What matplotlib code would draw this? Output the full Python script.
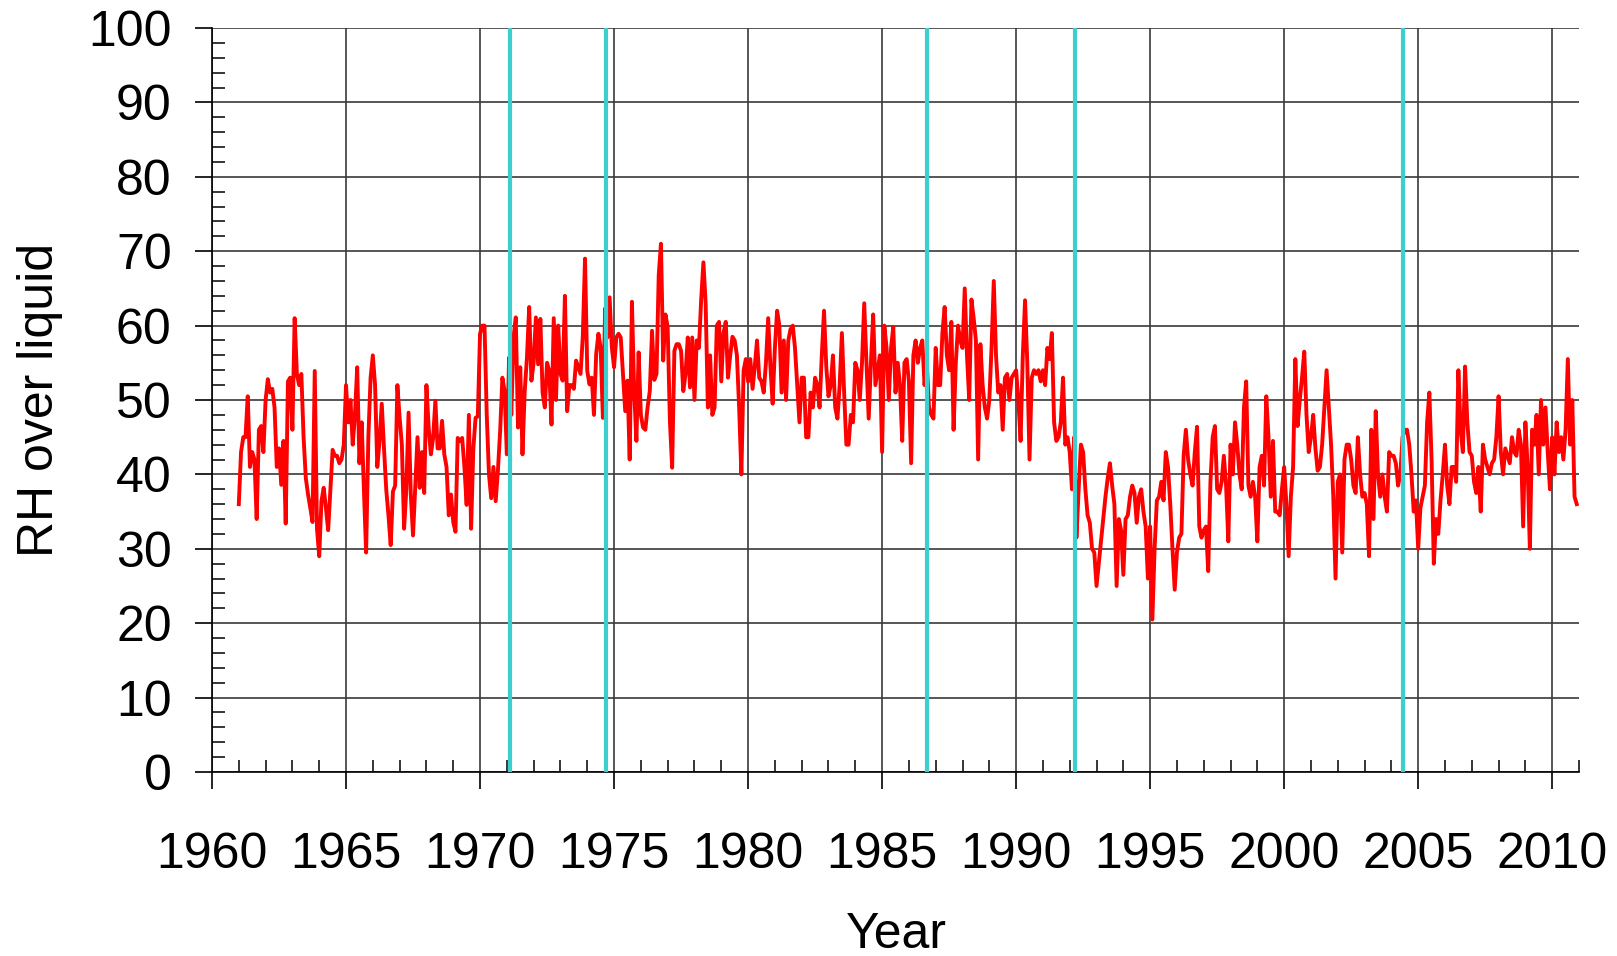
import matplotlib
matplotlib.use("Agg")
import matplotlib.pyplot as plt
import numpy as np
from matplotlib.ticker import MultipleLocator

# monthly RH over liquid, Jan 1961 .. Dec 2010
rh_1960s = [
    36, 43, 45, 45, 50.5, 41, 43, 42, 34, 46, 46.5, 43,
    50, 52.8, 51, 51.5, 49, 41, 43.5, 38.6, 44.5, 33.4, 52.5, 53,
    46, 61, 53.5, 52, 53.5, 45, 39.5, 37.3, 35.5, 33.6, 53.9, 32.7,
    29, 36.4, 38.2, 35.5, 32.5, 38, 43.3, 42.5, 42.5, 41.5, 42, 44,
    52, 47, 50, 44, 48, 54.4, 41.5, 47, 38, 29.5, 45, 53,
    56, 52, 41, 44.5, 49.5, 43.5, 38, 34.5, 30.5, 37.7, 38.5, 52,
    47.6, 44, 32.7, 38, 48.3, 37.3, 31.8, 38.5, 45, 38.2, 43, 37.5,
    52, 46.3, 42.7, 44.9, 49.9, 43.5, 43.5, 47.2, 42.7, 41, 34.5, 37.3,
    33.6, 32.3, 44.9, 44.5, 44.9, 41, 35.9, 48, 32.7, 43.5, 47.6, 47.8,
]
rh_1970s = [
    58.9, 60, 60, 48, 40, 36.8, 41, 36.4, 40.5, 45.8, 53, 51.2,
    42.7, 55.7, 48, 58.4, 61.1, 46.3, 54.4, 42.7, 51.2, 55.7, 62.5, 52.6,
    55, 61.1, 54.8, 60.9, 51, 49, 55, 53.9, 46.7, 61, 50, 60,
    53.5, 52.6, 64, 48.5, 52, 52, 51.5, 55.3, 54.4, 53.5, 58.5, 69,
    53.9, 52.1, 53, 48, 56.2, 58.9, 57, 47.6, 62.3, 58.4, 63.8, 57.1,
    54.4, 58.4, 58.9, 58.4, 53.5, 48.5, 52.6, 42, 63.2, 51.2, 44.5, 56.4,
    48, 46.3, 46, 49, 51.2, 59.3, 52.7, 53.5, 66.8, 71, 55.3, 61.5,
    59.8, 47.2, 40.9, 56.6, 57.5, 57.5, 56.6, 51.2, 53.5, 58.4, 51.7, 58.4,
    50, 58, 57, 63.5, 68.5, 63, 49, 56, 48, 49, 60, 60.5,
    52.5, 59, 60.5, 53, 56, 58.5, 58, 56, 49, 40, 54, 55.5,
]
rh_1980s = [
    52.5, 55.5, 51.5, 54.5, 58, 53, 52.5, 51, 55, 61, 54.5, 49.5,
    57, 62, 60, 51, 58, 50, 58, 59.5, 60, 57, 52, 47,
    53, 53, 45, 45, 51, 49, 53, 52, 49, 56, 62, 54.5,
    50.5, 52, 56, 49, 47.5, 52, 59, 51, 44, 44, 48, 47,
    55, 54, 50, 55, 63, 55, 47.5, 55, 61.5, 52, 54, 56,
    43, 60, 57, 50, 57, 59.8, 51, 55, 52, 44.5, 55, 55.5,
    52.5, 41.5, 56, 58, 55, 57, 58, 52, 55, 49, 48, 47.5,
    57, 52, 52, 59, 62.5, 56, 54, 60.5, 46, 55, 60, 58,
    57, 65, 56, 50, 63.5, 61, 58, 42, 57.5, 52, 49, 47.5,
    50, 57, 66, 56, 51, 52, 46, 53, 53.5, 50, 53, 53.5,
]
rh_1990s = [
    54, 50, 44.5, 56, 63.4, 55, 42, 53, 54, 53.5, 54, 52.5,
    54, 52, 57, 55.5, 59, 47, 44.5, 45, 47, 53, 44, 45,
    43, 38, 45, 31.5, 38, 44, 43, 38, 34.5, 33.5, 30, 29.5,
    25, 28, 31, 34, 37, 39.5, 41.5, 38.5, 36, 25, 34, 32.5,
    26.5, 34, 34.5, 37, 38.5, 37.5, 33.5, 37, 38, 35, 33, 26,
    33, 20.5, 30, 36.5, 37, 39, 36.5, 43, 41, 36, 30, 24.5,
    29.5, 31.5, 32, 42.5, 46, 42, 40, 38.5, 43, 46.4, 33, 31.5,
    32.5, 33, 27, 39, 45, 46.5, 38, 37.5, 39, 42.5, 38.5, 31,
    44, 40, 47, 44, 40, 38, 49, 52.5, 38.5, 37, 39, 37,
    31, 41, 42.5, 38.5, 50.5, 45, 37, 44.5, 35, 35, 34.5, 38,
]
rh_2000s = [
    41, 36, 29, 37, 41, 55.5, 46.5, 50, 53, 56.5, 48, 43,
    45, 48, 43.5, 40.5, 41, 44, 49, 54, 49, 44, 37, 26,
    39, 40, 29.5, 42, 44, 44, 42, 38.5, 37.5, 45, 40, 37,
    37.5, 36, 29, 46, 34, 48.5, 40, 37, 40, 37, 35, 43,
    42.5, 42.5, 41.5, 38.5, 40, 45, 46, 46, 44, 40, 35, 36.5,
    30, 35.5, 37, 38.5, 47, 51, 42, 28, 34, 32, 36.5, 40,
    44, 38.5, 36, 41, 41, 39, 54, 46, 43, 54.5, 47, 43,
    42.5, 39, 37.5, 41, 35, 44, 42, 41, 40, 41.5, 42, 45,
    50.5, 43, 40, 43.5, 42.5, 41.5, 45, 43, 42.5, 46, 44, 33,
    47, 41, 30, 46, 44, 48, 40, 50, 44, 49, 43, 38,
    45, 40, 47, 43, 45, 42, 46, 55.5, 44, 50, 37, 36,
]
breaks = [1971.12, 1974.70, 1986.69, 1992.18, 2004.43]

rh = np.array(rh_1960s + rh_1970s + rh_1980s + rh_1990s + rh_2000s)
years = 1961 + np.arange(len(rh)) / 12.0

plt.rcParams['font.family'] = ['Liberation Sans', 'DejaVu Sans']

fig = plt.figure(figsize=(16.17, 9.56), dpi=100)
ax = fig.add_axes([212 / 1617, 1 - 772 / 956, (1579 - 212) / 1617, (772 - 28) / 956])

ax.plot(years, rh, color='#ff0000', lw=2.8, zorder=2)
for b in breaks:
    ax.axvline(b, color='#3ccfcf', lw=3, zorder=3)

ax.set_xlim(1960, 2011)
ax.set_ylim(0, 100)
ax.set_xticks(np.arange(1960, 2011, 5))
ax.set_yticks(np.arange(0, 101, 10))
ax.xaxis.set_minor_locator(MultipleLocator(1))
ax.yaxis.set_minor_locator(MultipleLocator(2))

ax.grid(which='major', color='#3a3a3a', lw=1.2, zorder=1)
ax.tick_params(which='major', direction='out', length=12, width=1.2, labelsize=36)
ax.tick_params(axis='x', which='major', pad=31)
ax.tick_params(axis='y', which='major', pad=17)
ax.tick_params(which='minor', direction='in', length=9, width=1.1)

for s in ['top', 'right']:
    ax.spines[s].set_visible(False)
for s in ['left', 'bottom']:
    ax.spines[s].set_linewidth(1.2)

fig.text(40 / 1617, 1 - 400 / 956, 'RH over liquid', rotation=90,
         ha='center', va='center', fontsize=36)
fig.text(896 / 1617, 1 - 935 / 956, 'Year', ha='center', va='center', fontsize=36)

plt.savefig('out.png', dpi=100)
